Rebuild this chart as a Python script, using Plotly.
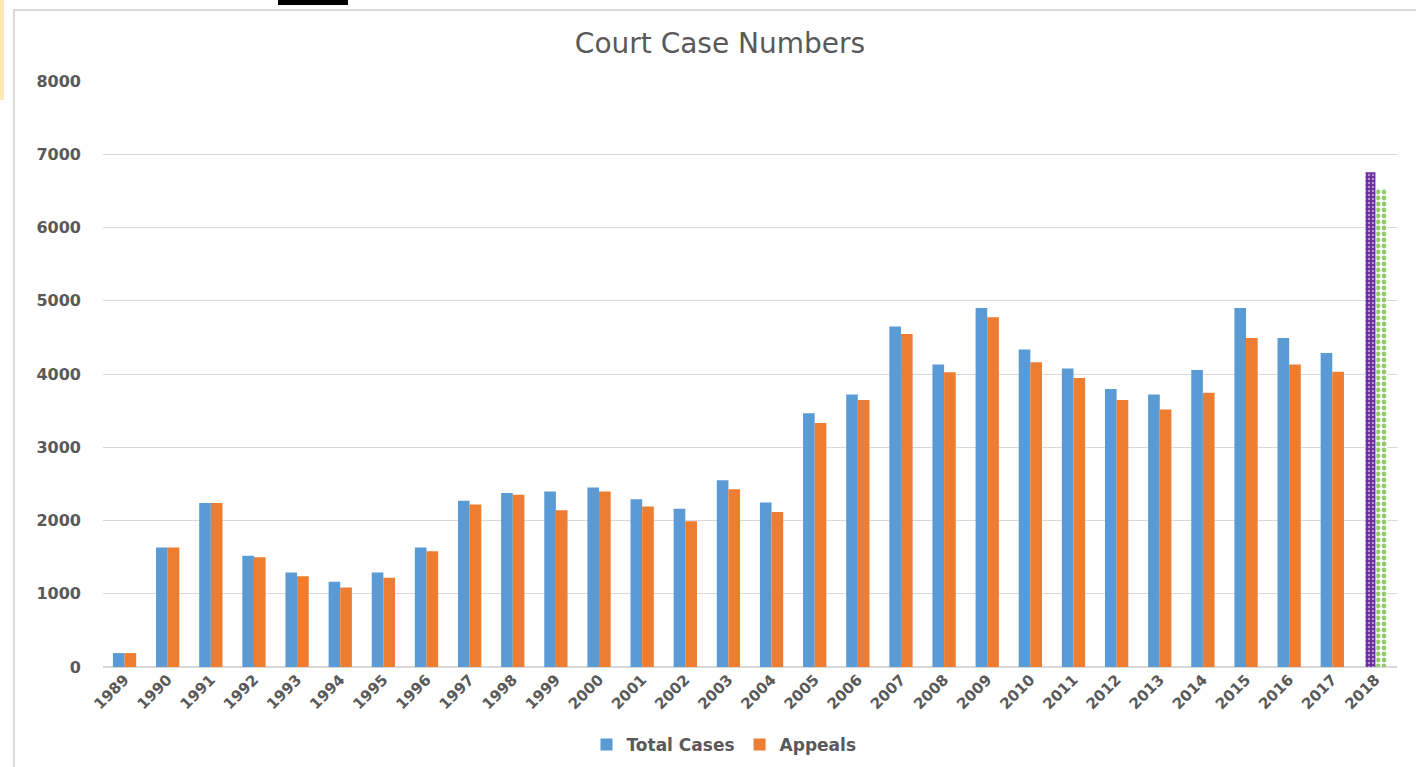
import plotly.graph_objects as go

years = ['1989', '1990', '1991', '1992', '1993', '1994', '1995', '1996', '1997', '1998',
         '1999', '2000', '2001', '2002', '2003', '2004', '2005', '2006', '2007', '2008',
         '2009', '2010', '2011', '2012', '2013', '2014', '2015', '2016', '2017', '2018']
total_cases = [190, 1630, 2240, 1520, 1290, 1165, 1290, 1630, 2270, 2375,
               2395, 2450, 2290, 2160, 2550, 2245, 3465, 3720, 4650, 4130,
               4900, 4335, 4075, 3795, 3720, 4055, 4900, 4490, 4285, 6755]
appeals = [190, 1630, 2240, 1500, 1240, 1085, 1220, 1580, 2220, 2350,
           2140, 2395, 2190, 1990, 2425, 2115, 3330, 3645, 4545, 4025,
           4775, 4160, 3945, 3645, 3515, 3745, 4490, 4130, 4030, 6530]

BLUE = '#5b9bd5'
ORANGE = '#ed7d31'
GREY = '#595959'

fig = go.Figure()
fig.add_trace(go.Bar(x=years[:-1], y=total_cases[:-1], name='Total Cases',
                     marker=dict(color=BLUE, line=dict(width=0)),
                     offset=-0.27, width=0.27))
fig.add_trace(go.Bar(x=years[:-1], y=appeals[:-1], name='Appeals',
                     marker=dict(color=ORANGE, line=dict(width=0)),
                     offset=0.0, width=0.27))
fig.add_trace(go.Bar(x=years[-1:], y=total_cases[-1:], showlegend=False,
                     marker=dict(color='#6a2aa0', line=dict(width=0),
                                 pattern=dict(shape='.', size=4, solidity=0.3,
                                              fgcolor='#ffffff', fillmode='overlay')),
                     offset=-0.23, width=0.23))
fig.add_trace(go.Bar(x=years[-1:], y=appeals[-1:], showlegend=False,
                     marker=dict(color='#ffffff', line=dict(width=0),
                                 pattern=dict(shape='.', size=6, solidity=0.5,
                                              fgcolor='#92cc6a', bgcolor='#ffffff',
                                              fillmode='replace')),
                     offset=0.02, width=0.25))

L, R, T, B = 103, 19, 81, 100
W, H = 1416, 767
pw, ph = W - L - R, H - T - B

def px(x):
    return (x - L) / pw

def py(y):
    return (H - B - y) / ph

shapes = [
    dict(type='rect', xref='paper', yref='paper', x0=px(14), x1=px(1430), y0=py(10), y1=py(780),
         line=dict(color='#d9d9d9', width=2), fillcolor='rgba(0,0,0,0)', layer='below'),
    dict(type='rect', xref='paper', yref='paper', x0=px(0), x1=px(4), y0=py(0), y1=py(100),
         line=dict(width=0), fillcolor='#fde9b5', layer='below'),
    dict(type='rect', xref='paper', yref='paper', x0=px(278), x1=px(348), y0=py(0), y1=py(5),
         line=dict(width=0), fillcolor='#000000', layer='above'),
]

fig.update_layout(
    width=W, height=H,
    margin=dict(l=L, r=R, t=T, b=B, autoexpand=False),
    paper_bgcolor='white', plot_bgcolor='white',
    barmode='overlay',
    title=dict(text='Court Case Numbers', x=px(720), xref='paper', xanchor='center',
               y=1 - 43 / H, yanchor='middle',
               font=dict(family='DejaVu Sans, sans-serif', size=28, color=GREY)),
    font=dict(family='DejaVu Sans, sans-serif', color=GREY),
    xaxis=dict(type='category', tickangle=-45, showgrid=False, showline=False,
               ticks='', tickfont=dict(size=15, color=GREY, weight='bold'),
               range=[-0.5, 29.5], automargin=False),
    yaxis=dict(range=[0, 8000], dtick=1000, showgrid=True, gridcolor='#d9d9d9', gridwidth=1,
               zeroline=True, zerolinecolor='#d9d9d9', zerolinewidth=1.5, showline=False,
               ticks='', ticklabelstandoff=21, automargin=False,
               tickfont=dict(size=16, color=GREY, weight='bold')),
    legend=dict(orientation='h', x=px(724), xanchor='center', y=py(745), yanchor='middle',
                font=dict(size=17, color=GREY, weight='bold'), itemwidth=30,
                traceorder='normal'),
    shapes=shapes,
)

fig.write_html('out.html', config={'displayModeBar': False},
               post_script="document.body.style.margin='0';document.body.style.overflow='hidden';")
